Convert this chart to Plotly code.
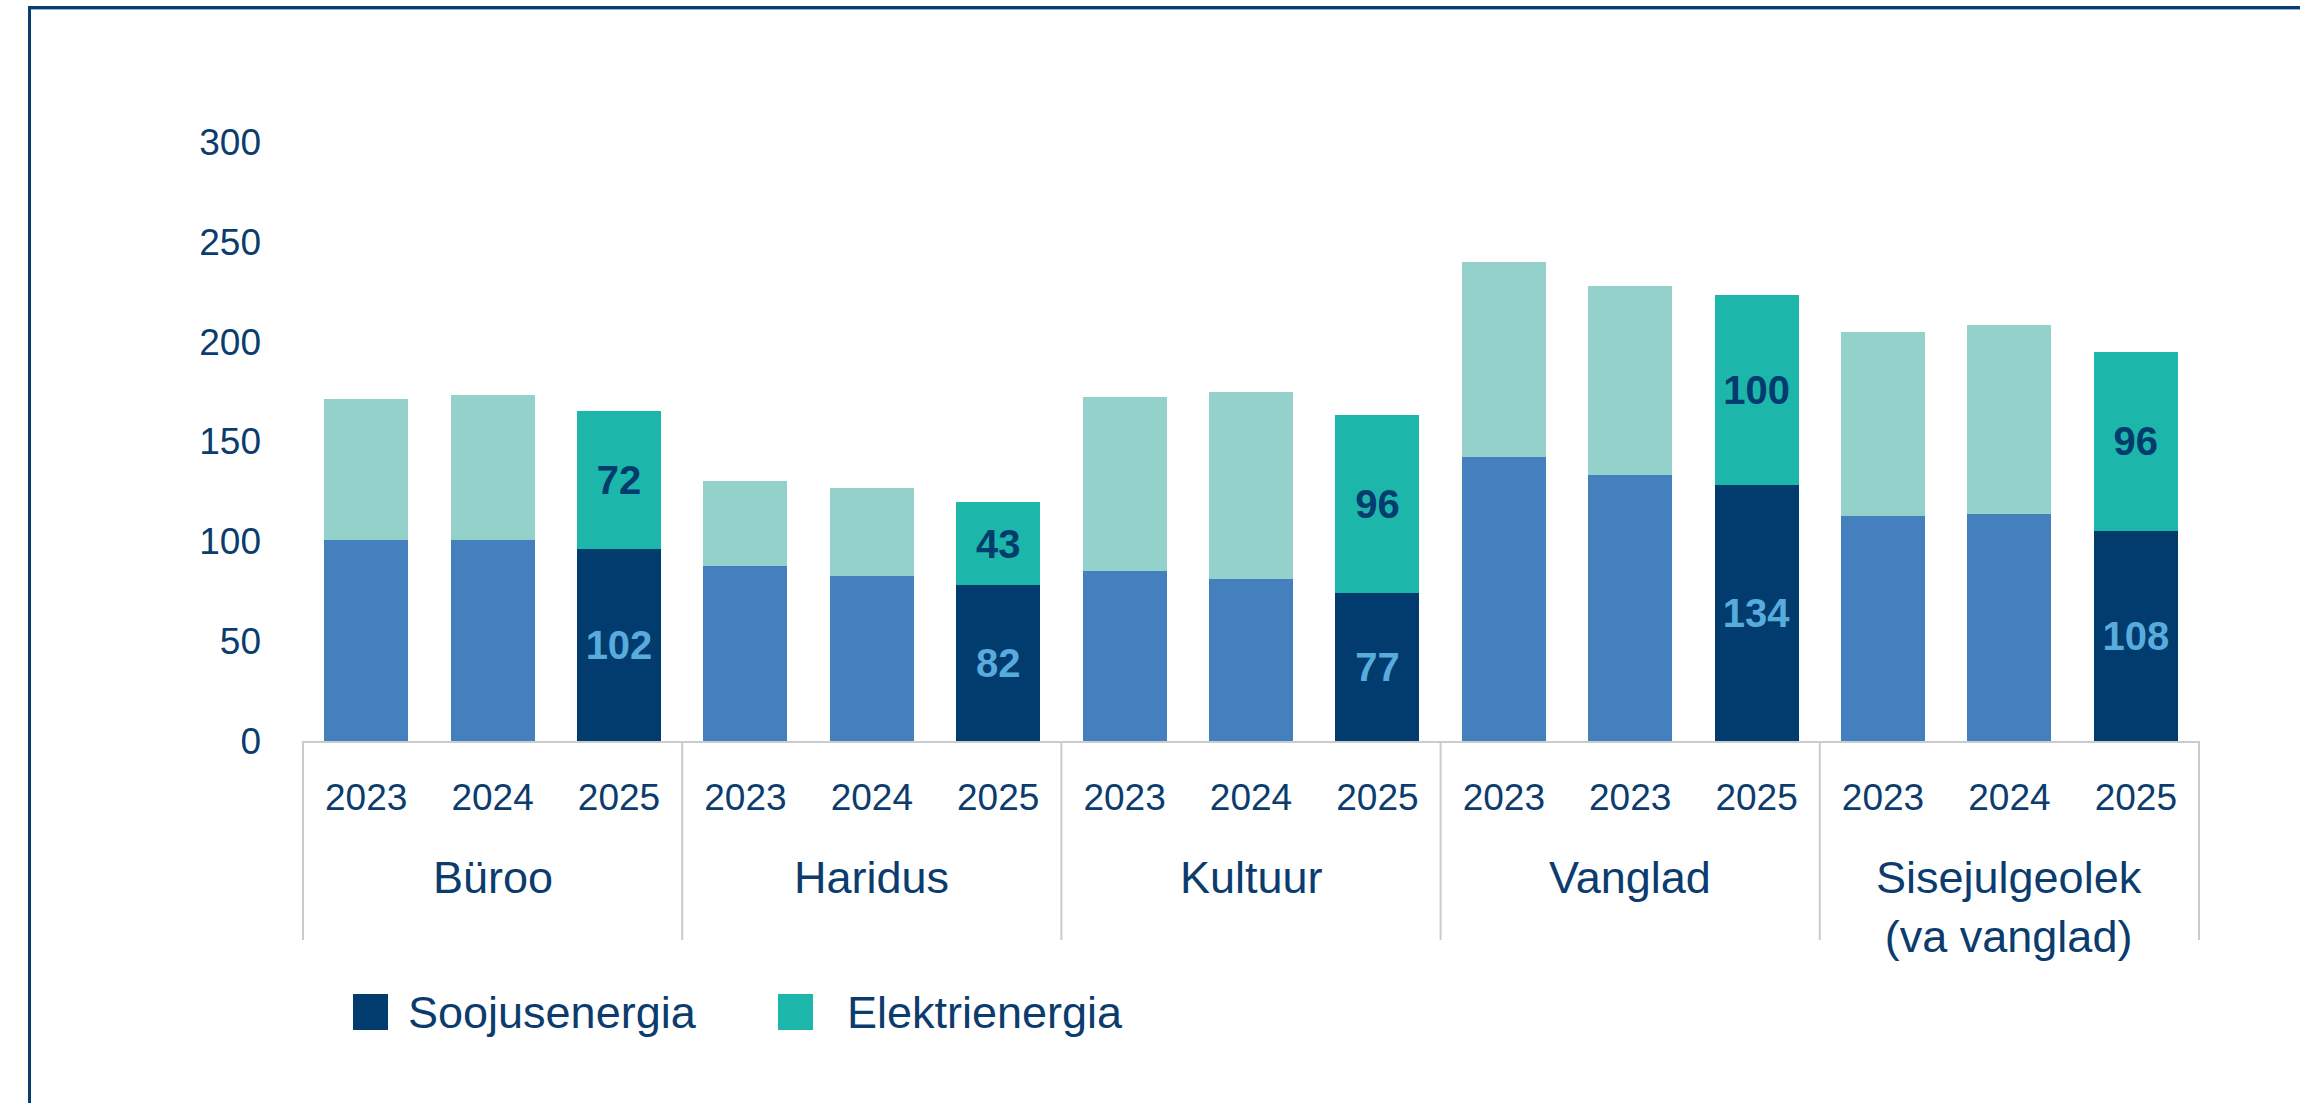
import plotly.graph_objects as go

# ---------------- data ----------------
groups = ["Büroo", "Haridus", "Kultuur", "Vanglad", "Sisejulgeolek<br>(va vanglad)"]
years = [
    ["2023", "2024", "2025"],
    ["2023", "2024", "2025"],
    ["2023", "2024", "2025"],
    ["2023", "2023", "2025"],
    ["2023", "2024", "2025"],
]
series_names = ["Soojusenergia", "Elektrienergia"]
heat = [100.8, 100.8, 96.1, 87.6, 82.4, 77.9, 85.3, 80.9, 74.3, 142.3, 133.2, 128.2, 112.7, 113.7, 105.2]
elec = [70.7, 72.6, 69.2, 42.6, 44.1, 42.0, 86.8, 94.1, 88.9, 97.8, 94.8, 95.3, 92.3, 94.8, 89.8]
heat_labels = ["", "", "102", "", "", "82", "", "", "77", "", "", "134", "", "", "108"]
elec_labels = ["", "", "72", "", "", "43", "", "", "96", "", "", "100", "", "", "96"]
y_ticks = [0, 50, 100, 150, 200, 250, 300]

# ---------------- style ----------------
NAVY_TXT = "#0B3C6D"
HEAT_OLD, HEAT_NEW = "#4480BD", "#023B6D"
ELEC_OLD, ELEC_NEW = "#94D1CA", "#1DB6AA"
HEAT_LBL = "#58ACDD"
GRAY = "#C9CBCC"
FONT = "Liberation Sans, Arial, sans-serif"

W, H = 2300, 1103
L, R, T, B = 302, 100, 142, 362
PW, PH = W - L - R, H - T - B


def px2x(px):
    return (px - L) / PW


def py2y(py):
    return (H - B - py) / PH


# category keys (unique), tick texts = years
keys, ticktext, is_new = [], [], []
for g, ys in zip(groups, years):
    for i, y in enumerate(ys):
        keys.append(f"{g}#{i}")
        ticktext.append(y)
        is_new.append(y == "2025")

heat_colors = [HEAT_NEW if n else HEAT_OLD for n in is_new]
elec_colors = [ELEC_NEW if n else ELEC_OLD for n in is_new]

fig = go.Figure()
fig.add_trace(go.Bar(
    x=keys, y=heat, name=series_names[0], marker=dict(color=heat_colors, line=dict(width=0)),
    text=heat_labels, texttemplate="%{text}", textposition="inside", insidetextanchor="middle",
    textangle=0, textfont=dict(family=FONT, size=40, color=HEAT_LBL, weight="bold"),
    showlegend=False, hoverinfo="skip",
))
fig.add_trace(go.Bar(
    x=keys, y=elec, name=series_names[1], marker=dict(color=elec_colors, line=dict(width=0)),
    text=elec_labels, texttemplate="%{text}", textposition="inside", insidetextanchor="middle",
    textangle=0, textfont=dict(family=FONT, size=40, color=HEAT_NEW, weight="bold"),
    showlegend=False, hoverinfo="skip",
))

shapes = []
annotations = []

# group dividers and group labels
pos = 0
bounds = [-0.5]
for g, ys in zip(groups, years):
    n = len(ys)
    annotations.append(dict(
        x=keys[pos + n // 2], xref="x", y=py2y(850), yref="paper", yanchor="top",
        text=g, showarrow=False, font=dict(family=FONT, size=45, color=NAVY_TXT),
    ))
    pos += n
    bounds.append(pos - 0.5)
for b in bounds:
    shapes.append(dict(type="line", xref="x", yref="paper", x0=b, x1=b, y0=0, y1=py2y(940),
                       line=dict(color=GRAY, width=2)))

# custom legend
leg = [(353, 406, HEAT_NEW, series_names[0]), (778, 845, ELEC_NEW, series_names[1])]
for sx, tx, col, name in leg:
    shapes.append(dict(type="rect", xref="paper", yref="paper",
                       x0=px2x(sx), x1=px2x(sx + 35), y0=py2y(1030), y1=py2y(994),
                       fillcolor=col, line=dict(width=0)))
    annotations.append(dict(x=px2x(tx), xref="paper", y=py2y(1012), yref="paper",
                            xanchor="left", yanchor="middle", text=name, showarrow=False,
                            font=dict(family=FONT, size=45, color=NAVY_TXT)))

# outer frame (top and left edges visible)
shapes.append(dict(type="line", xref="paper", yref="paper", x0=px2x(29.5), x1=px2x(2400),
                   y0=py2y(7.5), y1=py2y(7.5), line=dict(color="#0A3D6F", width=3)))
shapes.append(dict(type="line", xref="paper", yref="paper", x0=px2x(31), x1=px2x(2400),
                   y0=py2y(9.5), y1=py2y(9.5), line=dict(color="#8FB3D6", width=1)))
shapes.append(dict(type="line", xref="paper", yref="paper", x0=px2x(29.5), x1=px2x(29.5),
                   y0=py2y(6), y1=py2y(1200), line=dict(color="#0A3D6F", width=3)))

fig.update_layout(
    width=W, height=H,
    margin=dict(l=L, r=R, t=T, b=B, pad=0),
    paper_bgcolor="white", plot_bgcolor="white",
    barmode="stack", bargap=0.336,
    font=dict(family=FONT, color=NAVY_TXT),
    shapes=shapes, annotations=annotations,
    showlegend=False,
    xaxis=dict(
        type="category", tickmode="array", tickvals=keys, ticktext=ticktext,
        tickfont=dict(family=FONT, size=37, color=NAVY_TXT),
        showline=True, linecolor=GRAY, linewidth=2, showgrid=False, zeroline=False,
        ticks="", ticklabelstandoff=23, fixedrange=True,
    ),
    yaxis=dict(
        range=[0, 300], tickmode="array", tickvals=y_ticks,
        tickfont=dict(family=FONT, size=37, color=NAVY_TXT),
        showline=False, showgrid=False, zeroline=False, ticks="",
        ticklabelstandoff=40, fixedrange=True,
    ),
)

fig.write_html(
    "out.html",
    config={"displayModeBar": False, "staticPlot": True},
    post_script="document.body.style.margin='0';document.body.style.overflow='hidden';",
)
